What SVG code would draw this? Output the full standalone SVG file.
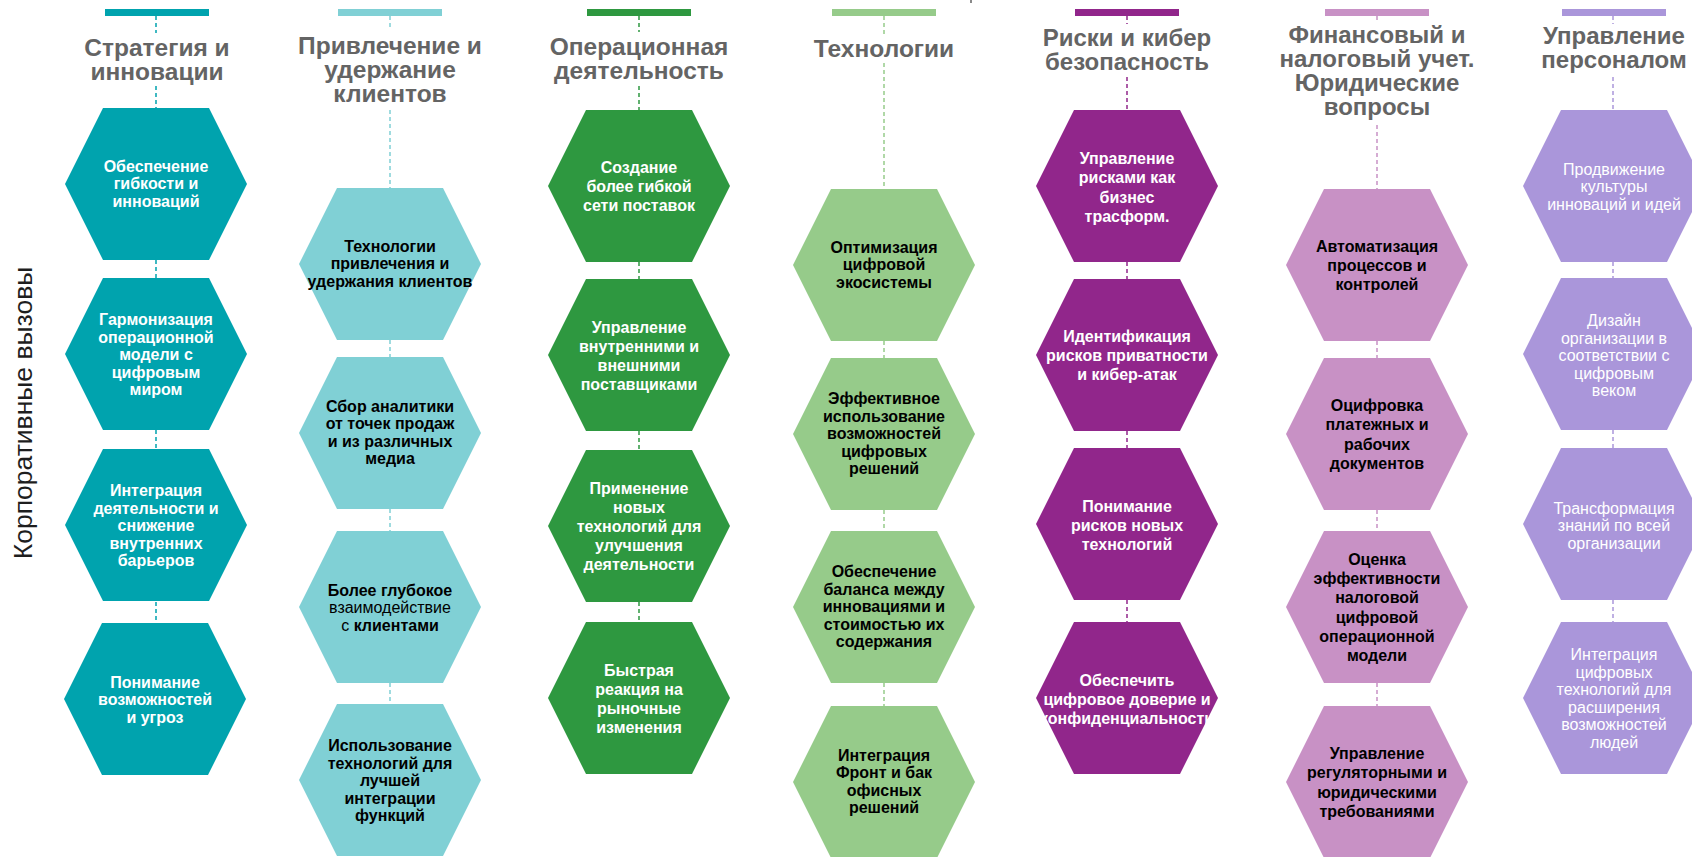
<svg xmlns="http://www.w3.org/2000/svg" xmlns:xlink="http://www.w3.org/1999/xlink" width="1692" height="857" viewBox="0 0 1692 857">
  <style>
    text { font-family: "Liberation Sans", Arial, sans-serif; }
    .title { font-size: 24.5px; font-weight: bold; fill: #646464; text-anchor: middle; }
    .title.sm { font-size: 24px; }
    .lbl { font-size: 16px; font-weight: bold; text-anchor: middle; }
    .lbl.reg { font-weight: normal; }
    .w { fill: #ffffff; }
    .k { fill: #000000; }
    .n { font-weight: normal; }
    .side { font-size: 26.5px; fill: #1e1e1e; text-anchor: middle; }
    .dash { fill: none; stroke-width: 1.5; stroke-dasharray: 4 3; }
    .c1 { fill: #00a3ae; } .s1 { stroke: #00a3ae; }
    .c2 { fill: #80d0d5; } .s2 { stroke: #80d0d5; }
    .c3 { fill: #2e9840; } .s3 { stroke: #2e9840; }
    .c4 { fill: #96cb8a; } .s4 { stroke: #96cb8a; }
    .c5 { fill: #91268b; } .s5 { stroke: #91268b; }
    .c6 { fill: #c891c5; } .s6 { stroke: #c891c5; }
    .c7 { fill: #aa96da; } .s7 { stroke: #aa96da; }
  </style>
  <defs>
    <!-- flat-topped hexagon centred on the origin -->
    <polygon id="hex" points="-53,-76 53,-76 91,0 53,76 -53,76 -91,0"/>
  </defs>

  <rect width="1692" height="857" fill="#ffffff"/>
  <rect x="970" y="0" width="2" height="3" fill="#8a8a8a"/>

  <!-- row label -->
  <text class="side" transform="translate(32,413) rotate(-90)">Корпоративные вызовы</text>

  <!-- column header bars -->
  <g id="bars">
    <rect class="c1" x="105" y="9" width="104" height="7"/>
    <rect class="c2" x="338" y="9" width="104" height="7"/>
    <rect class="c3" x="587" y="9" width="104" height="7"/>
    <rect class="c4" x="832" y="9" width="104" height="7"/>
    <rect class="c5" x="1075" y="9" width="104" height="7"/>
    <rect class="c6" x="1325" y="9" width="104" height="7"/>
    <rect class="c7" x="1562" y="9" width="104" height="7"/>
  </g>

  <!-- dashed connectors -->
  <g id="connectors" class="dash">
    <path class="s1" d="M156 16V33M156 86V108M156 260V278M156 430V449M156 602V623"/>
    <path class="s2" d="M390 16V30M390 110V188M390 340V357M390 509V531M390 683V704"/>
    <path class="s3" d="M639 16V32M639 86V110M639 262V279M639 431V450M639 602V622"/>
    <path class="s4" d="M884 16V34M884 63V189M884 341V358M884 510V531M884 683V706"/>
    <path class="s5" d="M1127 16V24M1127 77V110M1127 262V279M1127 431V448M1127 600V622"/>
    <path class="s6" d="M1377 16V21M1377 125V189M1377 341V358M1377 510V531M1377 683V706"/>
    <path class="s7" d="M1613 16V24M1613 77V110M1613 262V278M1613 430V448M1613 600V622"/>
  </g>

  <!-- column titles -->
  <g id="titles">
    <text class="title" x="157"><tspan x="157" y="56">Стратегия и</tspan><tspan x="157" y="80">инновации</tspan></text>
    <text class="title" x="390"><tspan x="390" y="54">Привлечение и</tspan><tspan x="390" y="78">удержание</tspan><tspan x="390" y="102">клиентов</tspan></text>
    <text class="title" x="639"><tspan x="639" y="55">Операционная</tspan><tspan x="639" y="79">деятельность</tspan></text>
    <text class="title" x="884" y="57">Технологии</text>
    <text class="title sm" x="1127"><tspan x="1127" y="46">Риски и кибер</tspan><tspan x="1127" y="70">безопасность</tspan></text>
    <text class="title sm" x="1377"><tspan x="1377" y="43">Финансовый и</tspan><tspan x="1377" y="67">налоговый учет.</tspan><tspan x="1377" y="91">Юридические</tspan><tspan x="1377" y="115">вопросы</tspan></text>
    <text class="title sm" x="1614"><tspan x="1614" y="44">Управление</tspan><tspan x="1614" y="68">персоналом</tspan></text>
  </g>

  <!-- column 1: strategy and innovation -->
  <g id="n1-1"><use href="#hex" class="c1" x="156" y="184"/>
    <text class="lbl w"><tspan x="156" y="171.5">Обеспечение</tspan><tspan x="156" dy="17.5">гибкости и</tspan><tspan x="156" dy="17.5">инноваций</tspan></text></g>
  <g id="n1-2"><use href="#hex" class="c1" x="156" y="354"/>
    <text class="lbl w"><tspan x="156" y="325">Гармонизация</tspan><tspan x="156" dy="17.5">операционной</tspan><tspan x="156" dy="17.5">модели с</tspan><tspan x="156" dy="17.5">цифровым</tspan><tspan x="156" dy="17.5">миром</tspan></text></g>
  <g id="n1-3"><use href="#hex" class="c1" x="156" y="525"/>
    <text class="lbl w"><tspan x="156" y="496">Интеграция</tspan><tspan x="156" dy="17.5">деятельности и</tspan><tspan x="156" dy="17.5">снижение</tspan><tspan x="156" dy="17.5">внутренних</tspan><tspan x="156" dy="17.5">барьеров</tspan></text></g>
  <g id="n1-4"><use href="#hex" class="c1" x="155" y="699"/>
    <text class="lbl w"><tspan x="155" y="687.5">Понимание</tspan><tspan x="155" dy="17.5">возможностей</tspan><tspan x="155" dy="17.5">и угроз</tspan></text></g>

  <!-- column 2: customer acquisition and retention -->
  <g id="n2-1"><use href="#hex" class="c2" x="390" y="264"/>
    <text class="lbl k"><tspan x="390" y="251.5">Технологии</tspan><tspan x="390" dy="17.5">привлечения и</tspan><tspan x="390" dy="17.5">удержания клиентов</tspan></text></g>
  <g id="n2-2"><use href="#hex" class="c2" x="390" y="433"/>
    <text class="lbl k"><tspan x="390" y="411.75">Сбор аналитики</tspan><tspan x="390" dy="17.5">от точек продаж</tspan><tspan x="390" dy="17.5">и из различных</tspan><tspan x="390" dy="17.5">медиа</tspan></text></g>
  <g id="n2-3"><use href="#hex" class="c2" x="390" y="607"/>
    <text class="lbl k"><tspan x="390" y="595.5">Более глубокое</tspan><tspan x="390" dy="17.5" class="n">взаимодействие</tspan><tspan x="390" dy="17.5"><tspan class="n">с </tspan>клиентами</tspan></text></g>
  <g id="n2-4"><use href="#hex" class="c2" x="390" y="780"/>
    <text class="lbl k"><tspan x="390" y="751">Использование</tspan><tspan x="390" dy="17.5">технологий для</tspan><tspan x="390" dy="17.5">лучшей</tspan><tspan x="390" dy="17.5">интеграции</tspan><tspan x="390" dy="17.5">функций</tspan></text></g>

  <!-- column 3: operations -->
  <g id="n3-1"><use href="#hex" class="c3" x="639" y="186"/>
    <text class="lbl w"><tspan x="639" y="173">Создание</tspan><tspan x="639" dy="19">более гибкой</tspan><tspan x="639" dy="19">сети поставок</tspan></text></g>
  <g id="n3-2"><use href="#hex" class="c3" x="639" y="355"/>
    <text class="lbl w"><tspan x="639" y="332.5">Управление</tspan><tspan x="639" dy="19">внутренними и</tspan><tspan x="639" dy="19">внешними</tspan><tspan x="639" dy="19">поставщиками</tspan></text></g>
  <g id="n3-3"><use href="#hex" class="c3" x="639" y="526"/>
    <text class="lbl w"><tspan x="639" y="494">Применение</tspan><tspan x="639" dy="19">новых</tspan><tspan x="639" dy="19">технологий для</tspan><tspan x="639" dy="19">улучшения</tspan><tspan x="639" dy="19">деятельности</tspan></text></g>
  <g id="n3-4"><use href="#hex" class="c3" x="639" y="698"/>
    <text class="lbl w"><tspan x="639" y="675.5">Быстрая</tspan><tspan x="639" dy="19">реакция на</tspan><tspan x="639" dy="19">рыночные</tspan><tspan x="639" dy="19">изменения</tspan></text></g>

  <!-- column 4: technology -->
  <g id="n4-1"><use href="#hex" class="c4" x="884" y="265"/>
    <text class="lbl k"><tspan x="884" y="252.5">Оптимизация</tspan><tspan x="884" dy="17.5">цифровой</tspan><tspan x="884" dy="17.5">экосистемы</tspan></text></g>
  <g id="n4-2"><use href="#hex" class="c4" x="884" y="434"/>
    <text class="lbl k"><tspan x="884" y="404">Эффективное</tspan><tspan x="884" dy="17.5">использование</tspan><tspan x="884" dy="17.5">возможностей</tspan><tspan x="884" dy="17.5">цифровых</tspan><tspan x="884" dy="17.5">решений</tspan></text></g>
  <g id="n4-3"><use href="#hex" class="c4" x="884" y="607"/>
    <text class="lbl k"><tspan x="884" y="577">Обеспечение</tspan><tspan x="884" dy="17.5">баланса между</tspan><tspan x="884" dy="17.5">инновациями и</tspan><tspan x="884" dy="17.5">стоимостью их</tspan><tspan x="884" dy="17.5">содержания</tspan></text></g>
  <g id="n4-4"><use href="#hex" class="c4" x="884" y="782"/>
    <text class="lbl k"><tspan x="884" y="760.75">Интеграция</tspan><tspan x="884" dy="17.5">Фронт и бак</tspan><tspan x="884" dy="17.5">офисных</tspan><tspan x="884" dy="17.5">решений</tspan></text></g>

  <!-- column 5: risk and cyber security -->
  <g id="n5-1"><use href="#hex" class="c5" x="1127" y="186"/>
    <text class="lbl w"><tspan x="1127" y="164">Управление</tspan><tspan x="1127" dy="19.3">рисками как</tspan><tspan x="1127" dy="19.3">бизнес</tspan><tspan x="1127" dy="19.3">трасформ.</tspan></text></g>
  <g id="n5-2"><use href="#hex" class="c5" x="1127" y="355"/>
    <text class="lbl w"><tspan x="1127" y="341.7">Идентификация</tspan><tspan x="1127" dy="19.3">рисков приватности</tspan><tspan x="1127" dy="19.3">и кибер-атак</tspan></text></g>
  <g id="n5-3"><use href="#hex" class="c5" x="1127" y="524"/>
    <text class="lbl w"><tspan x="1127" y="511.7">Понимание</tspan><tspan x="1127" dy="19.3">рисков новых</tspan><tspan x="1127" dy="19.3">технологий</tspan></text></g>
  <g id="n5-4"><use href="#hex" class="c5" x="1127" y="698"/>
    <text class="lbl w"><tspan x="1127" y="685.7">Обеспечить</tspan><tspan x="1127" dy="19.3">цифровое доверие и</tspan><tspan x="1127" dy="19.3">конфиденциальность</tspan></text></g>

  <!-- column 6: finance, tax and legal -->
  <g id="n6-1"><use href="#hex" class="c6" x="1377" y="265"/>
    <text class="lbl k"><tspan x="1377" y="251.7">Автоматизация</tspan><tspan x="1377" dy="19.3">процессов и</tspan><tspan x="1377" dy="19.3">контролей</tspan></text></g>
  <g id="n6-2"><use href="#hex" class="c6" x="1377" y="434"/>
    <text class="lbl k"><tspan x="1377" y="411">Оцифровка</tspan><tspan x="1377" dy="19.3">платежных и</tspan><tspan x="1377" dy="19.3">рабочих</tspan><tspan x="1377" dy="19.3">документов</tspan></text></g>
  <g id="n6-3"><use href="#hex" class="c6" x="1377" y="607"/>
    <text class="lbl k"><tspan x="1377" y="564.75">Оценка</tspan><tspan x="1377" dy="19.3">эффективности</tspan><tspan x="1377" dy="19.3">налоговой</tspan><tspan x="1377" dy="19.3">цифровой</tspan><tspan x="1377" dy="19.3">операционной</tspan><tspan x="1377" dy="19.3">модели</tspan></text></g>
  <g id="n6-4"><use href="#hex" class="c6" x="1377" y="782"/>
    <text class="lbl k"><tspan x="1377" y="759">Управление</tspan><tspan x="1377" dy="19.3">регуляторными и</tspan><tspan x="1377" dy="19.3">юридическими</tspan><tspan x="1377" dy="19.3">требованиями</tspan></text></g>

  <!-- column 7: people management -->
  <g id="n7-1"><use href="#hex" class="c7" x="1614" y="186"/>
    <text class="lbl reg w"><tspan x="1614" y="174.5">Продвижение</tspan><tspan x="1614" dy="17.5">культуры</tspan><tspan x="1614" dy="17.5">инноваций и идей</tspan></text></g>
  <g id="n7-2"><use href="#hex" class="c7" x="1614" y="354"/>
    <text class="lbl reg w"><tspan x="1614" y="326">Дизайн</tspan><tspan x="1614" dy="17.5">организации в</tspan><tspan x="1614" dy="17.5">соответствии с</tspan><tspan x="1614" dy="17.5">цифровым</tspan><tspan x="1614" dy="17.5">веком</tspan></text></g>
  <g id="n7-3"><use href="#hex" class="c7" x="1614" y="524"/>
    <text class="lbl reg w"><tspan x="1614" y="513.5">Трансформация</tspan><tspan x="1614" dy="17.5">знаний по всей</tspan><tspan x="1614" dy="17.5">организации</tspan></text></g>
  <g id="n7-4"><use href="#hex" class="c7" x="1614" y="698"/>
    <text class="lbl reg w"><tspan x="1614" y="660.25">Интеграция</tspan><tspan x="1614" dy="17.5">цифровых</tspan><tspan x="1614" dy="17.5">технологий для</tspan><tspan x="1614" dy="17.5">расширения</tspan><tspan x="1614" dy="17.5">возможностей</tspan><tspan x="1614" dy="17.5">людей</tspan></text></g>
</svg>
